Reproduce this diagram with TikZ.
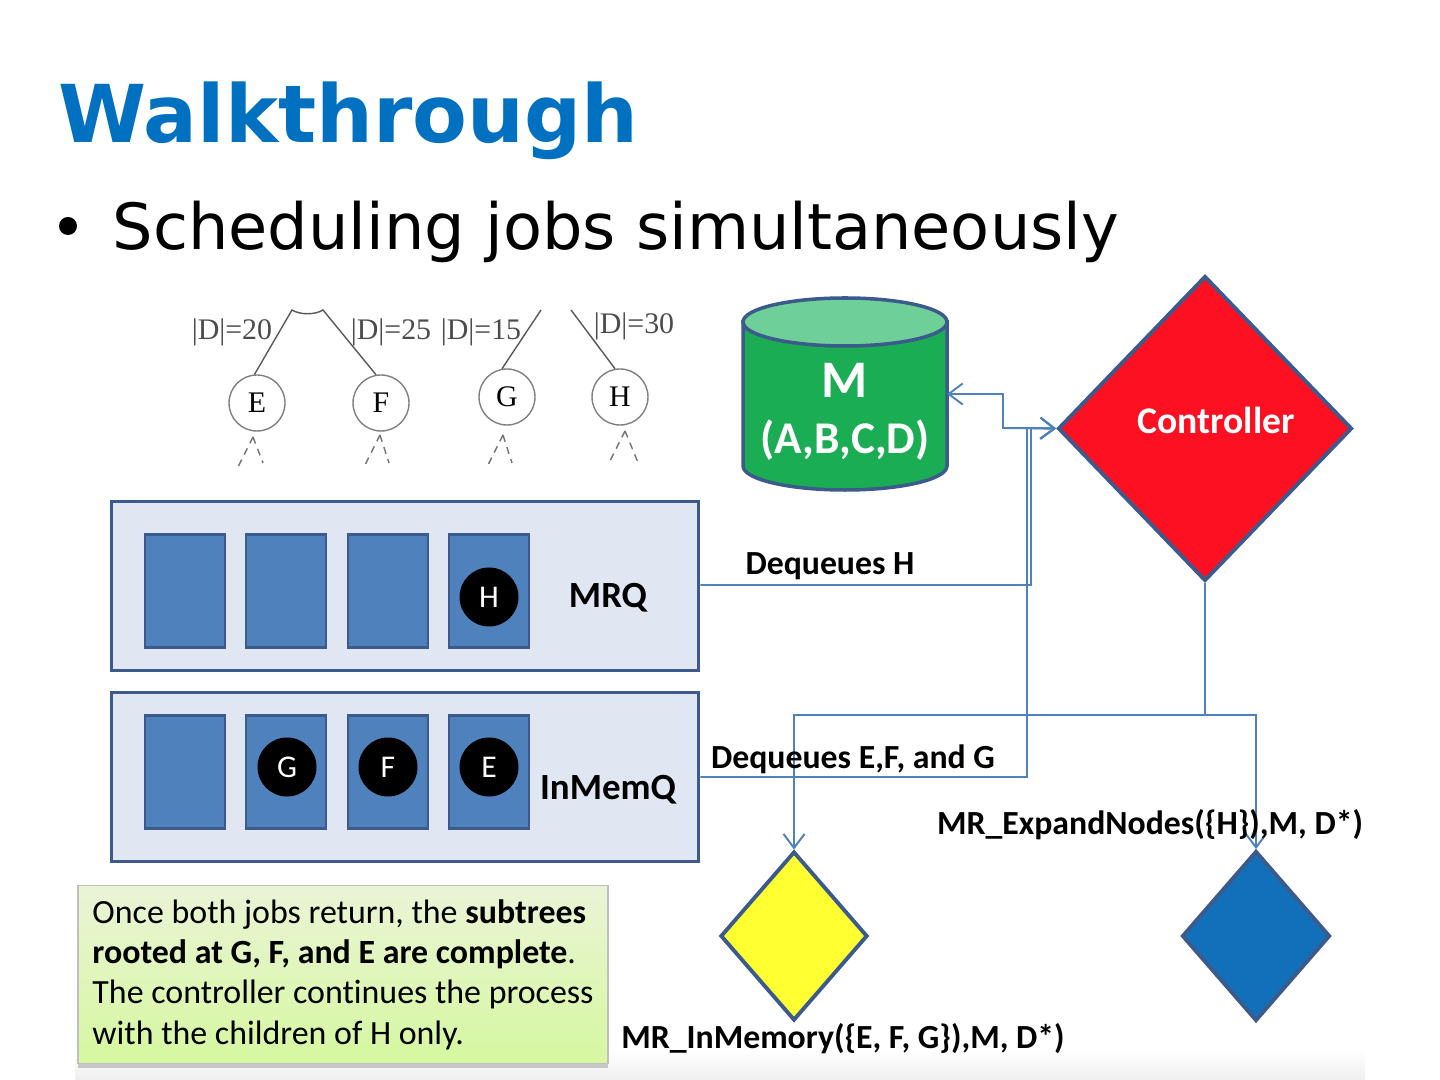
\documentclass[tikz,border=0pt]{standalone}
\usepackage{fontspec}
\setmainfont[Ligatures=NoCommon]{Carlito}
\newfontfamily\slidefont{DejaVu Sans}
\newfontfamily\treefont{Liberation Serif}
\usetikzlibrary{shapes.geometric,arrows.meta,shadows}
\definecolor{titleblue}{RGB}{0,112,192}
\definecolor{edgeblue}{RGB}{60,90,140}
\definecolor{wireblue}{RGB}{79,129,189}
\definecolor{boxfill}{RGB}{224,231,243}
\definecolor{slotfill}{RGB}{79,129,189}
\definecolor{drumgreen}{RGB}{27,173,83}
\definecolor{drumtop}{RGB}{110,208,152}
\definecolor{notetop}{RGB}{234,244,214}
\definecolor{notebot}{RGB}{214,247,160}
\definecolor{ctrlred}{RGB}{253,16,33}
\definecolor{jobyellow}{RGB}{255,255,50}
\definecolor{jobblue}{RGB}{18,112,187}
\newlength{\pxu}
\setlength{\pxu}{0.01cm}
\tikzset{
    queuebox/.style={draw=edgeblue, line width=1.1pt, fill=boxfill, minimum width=587\pxu, minimum height=169\pxu, inner sep=0pt},
    slotbox/.style={draw=edgeblue, line width=0.8pt, fill=slotfill, minimum width=80\pxu, minimum height=113\pxu, inner sep=0pt},
    jobdot/.style={circle, fill=black, text=white, minimum size=59\pxu, inner sep=0pt, font=\fontsize{9}{9}\selectfont},
    treenode/.style={circle, draw=gray, line width=0.4pt, minimum size=56\pxu, inner sep=0pt, font=\treefont\fontsize{8.5}{9}\selectfont},
    sizelabel/.style={text=black!70, inner sep=0pt, font=\treefont\fontsize{8.5}{9}\selectfont},
    boldlabel/.style={inner sep=0pt, font=\bfseries\fontsize{9.6}{10}\selectfont},
    wire/.style={draw=wireblue, line width=0.55pt},
    treeline/.style={draw=black!65, line width=0.4pt},
    subtree/.style={draw=black!55, line width=0.4pt, dash pattern=on 2pt off 1.6pt},
    decision/.style={diamond, draw=edgeblue, line width=1.1pt, inner sep=0pt}
}
\begin{document}
\begin{tikzpicture}[x=0.01cm,y=-0.01cm,>={Straight Barb[length=4pt,width=6pt]}]
    \useasboundingbox (0,0) rectangle (1440,1080);
    \shade[top color=white, bottom color=black!6] (75,1050) rectangle (1365,1080);

    % Title and bullet
    \node (title) [anchor=west, inner sep=0pt, text=titleblue, font=\slidefont\bfseries\fontsize{22.7}{23}\selectfont] at (58,121) {Walkthrough};
    \node (dot) [circle, fill=black, minimum size=18\pxu, inner sep=0pt] at (68,226) {};
    \node (bullet) [anchor=west, inner sep=0pt, font=\slidefont\fontsize{18.13}{19}\selectfont] at (112,232) {Scheduling jobs simultaneously};

    % Tree fragment
    \node[treenode] (treeE) at (257,403) {E};
    \node[treenode] (treeF) at (381,403) {F};
    \node[treenode] (treeG) at (507,397) {G};
    \node[treenode] (treeH) at (620,397) {H};
    \node[sizelabel] (sizeE) at (232,332) {|D|=20};
    \node[sizelabel] (sizeF) at (391,332) {|D|=25};
    \node[sizelabel] (sizeG) at (481,332) {|D|=15};
    \node[sizelabel] (sizeH) at (634,326) {|D|=30};
    \coordinate (topE) at (292,310);
    \coordinate (topF) at (323,310);
    \coordinate (topG) at (541,310);
    \coordinate (topH) at (571,310);
    \draw[treeline] (treeE.95) -- (topE) .. controls (300,315) and (315,315) .. (topF) -- (treeF.100);
    \draw[treeline] (treeG.100) -- (topG);
    \draw[treeline] (treeH.100) -- (topH);
    \foreach \px/\py/\rx/\ry in {253/437/10/26, 380/435/9/28, 503/435/9/28, 625/431/14/34} {
        \draw[subtree] (\px,\py) -- ++(-15,30);
        \draw[subtree] (\px,\py) -- ++(\rx,\ry);
    }

    % Queues
    \node[queuebox] (mrq) at (405,586) {};
    \node[queuebox] (inmemq) at (405,777) {};
    \foreach \slot/\xpos in {a/185, b/286, c/388, d/489} {
        \node[slotbox] (mrq\slot) at (\xpos,591) {};
        \node[slotbox] (mem\slot) at (\xpos,772) {};
    }
    \node[jobdot] (jobH) at (489,597) {H};
    \node[jobdot] (jobG) at (287,767) {G};
    \node[jobdot] (jobF) at (388,767) {F};
    \node[jobdot] (jobE) at (489,767) {E};
    \node[boldlabel, font=\bfseries\fontsize{10.5}{11}\selectfont] (mrqname) at (608,598) {MRQ};
    \node[boldlabel, font=\bfseries\fontsize{10.5}{11}\selectfont] (memname) at (608,790) {InMemQ};

    % Storage drum
    \draw[draw=edgeblue, line width=1pt, fill=drumgreen] (743,322) -- (743,466) arc[start angle=180, end angle=360, x radius=102\pxu, y radius=24\pxu] -- (947,322) -- cycle;
    \draw[draw=edgeblue, line width=1pt, fill=drumtop] (845,322) circle[x radius=102\pxu, y radius=24\pxu];
    \coordinate (drumport) at (947,394);
    \node[text=white, align=center, font=\bfseries\fontsize{12.9}{16}\selectfont, inner sep=0pt] (drumtext) at (845,412) {\fontsize{15}{16}\selectfont M\\(A,B,C,D)};

    % Controller and jobs
    \node[decision, fill=ctrlred, minimum width=294\pxu, minimum height=305\pxu] (ctrl) at (1205,428.5) {};
    \node[text=white, inner sep=0pt, font=\bfseries\fontsize{10.7}{11}\selectfont] (ctrltext) at (1216,420) {Controller};
    \node[decision, fill=jobyellow, minimum width=147\pxu, minimum height=169\pxu] (leftjob) at (794,936) {};
    \node[decision, fill=jobblue, minimum width=148\pxu, minimum height=170\pxu] (rightjob) at (1256,936) {};

    % Junctions on the wires
    \coordinate (split) at (1205,715);
    \coordinate (bend) at (1003,428);

    % Connectors
    \draw[wire,->] (mrq.east |- 0,585) -| (1031,428) -- (ctrl.west);
    \draw[wire,->] (inmemq.east) -| (1027,428) -- (ctrl.west);
    \draw[wire,<->] (drumport) -| (bend) -- (ctrl.west);
    \draw[wire] (ctrl.south) -- (split);
    \draw[wire,->] (split) -| (leftjob.north);
    \draw[wire,->] (split) -| (rightjob.north);

    % Wire labels
    \node[boldlabel] (deqH) at (830,566) {Dequeues H};
    \node[boldlabel] (deqEFG) at (853,759) {Dequeues E,F, and G};
    \node[boldlabel] (expandlabel) at (1150,825) {MR\_ExpandNodes(\{H\}),M, D*)};
    \node[boldlabel] (memlabel) at (843,1039) {MR\_InMemory(\{E, F, G\}),M, D*)};

    % Note
    \node[draw=black!25, line width=0.4pt, top color=notetop, bottom color=notebot, drop shadow={shadow xshift=0pt, shadow yshift=-1.2pt, opacity=0.4}, minimum width=530\pxu, minimum height=178\pxu, inner sep=0pt, align=left, font=\fontsize{9.64}{11.5}\selectfont] (note) at (343,974.5) {Once both jobs return, the \textbf{subtrees}\\\textbf{rooted at G, F, and E are complete}.\\The controller continues the process\\with the children of H only.};
\end{tikzpicture}
\end{document}
